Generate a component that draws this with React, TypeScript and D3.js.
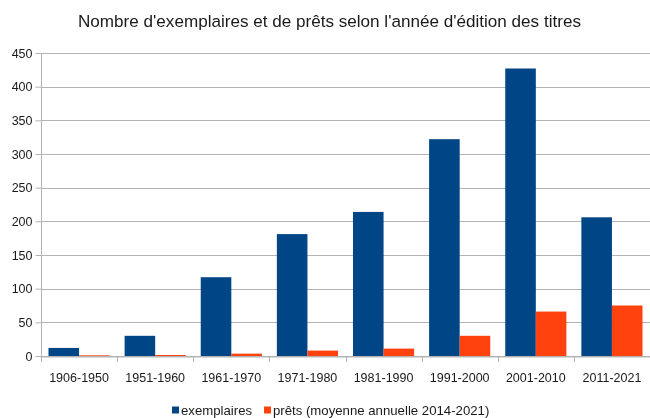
import { useEffect, useRef } from "react";
import * as d3 from "d3";

const periods = [
  "1906-1950",
  "1951-1960",
  "1961-1970",
  "1971-1980",
  "1981-1990",
  "1991-2000",
  "2001-2010",
  "2011-2021",
];
const exemplaires = [12, 30, 117, 181, 214, 322, 427, 206];
const prets = [1, 1.5, 3.5, 8, 11, 30, 66, 75];
const seriesNames = ["exemplaires", "prêts (moyenne annuelle 2014-2021)"];
const yTicks = [0, 50, 100, 150, 200, 250, 300, 350, 400, 450];

const colors = ["#004586", "#ff420e"];

export default function App() {
  const svgRef = useRef<SVGSVGElement>(null);

  useEffect(() => {
    if (!svgRef.current) return;
    const svg = d3.select(svgRef.current);
    svg.selectAll("*").remove();

    const width = 650;
    const height = 418;
    const margin = { top: 53, right: 0, bottom: 62, left: 41 };
    const innerWidth = width - margin.left - margin.right;
    const innerHeight = height - margin.top - margin.bottom;
    const font = "'Liberation Sans', Arial, sans-serif";

    svg.attr("width", width).attr("height", height);

    // Title
    svg
      .append("text")
      .attr("x", 329.5)
      .attr("y", 27)
      .attr("text-anchor", "middle")
      .attr("font-family", font)
      .attr("font-size", "17.1px")
      .attr("fill", "#1a1a1a")
      .text("Nombre d'exemplaires et de prêts selon l'année d'édition des titres");

    const g = svg
      .append("g")
      .attr("transform", `translate(${margin.left},${margin.top})`);

    const x = d3.scaleBand().domain(periods).range([0, innerWidth]).padding(0);
    const y = d3.scaleLinear().domain([0, 450]).range([innerHeight, 0]);

    const inner = d3
      .scaleBand()
      .domain(seriesNames)
      .range([0, x.bandwidth()])
      .paddingInner(0)
      .paddingOuter(0.245);

    // Gridlines
    g.selectAll("line.grid")
      .data(yTicks)
      .join("line")
      .attr("class", "grid")
      .attr("x1", 0)
      .attr("x2", innerWidth)
      .attr("y1", (d) => Math.round(y(d)) + 0.5)
      .attr("y2", (d) => Math.round(y(d)) + 0.5)
      .attr("stroke", "#b3b3b3")
      .attr("stroke-width", 1);

    // Bars
    const rows = periods.map((p, i) => ({ p, vals: [exemplaires[i], prets[i]] }));
    const groups = g
      .selectAll("g.cat")
      .data(rows)
      .join("g")
      .attr("class", "cat")
      .attr("transform", (d) => `translate(${x(d.p)},0)`);

    groups
      .selectAll("rect")
      .data((d) => d.vals.map((v, k) => ({ v, k })))
      .join("rect")
      .attr("x", (d) => inner(seriesNames[d.k])!)
      .attr("width", inner.bandwidth())
      .attr("y", (d) => y(d.v))
      .attr("height", (d) => innerHeight - y(d.v))
      .attr("fill", (d) => colors[d.k]);

    // Y axis
    const yAxis = g
      .append("g")
      .attr("transform", "translate(0.5,0)")
      .call(d3.axisLeft(y).tickValues(yTicks).tickSize(6).tickPadding(3));
    yAxis.select(".domain").attr("stroke", "#b3b3b3").attr("d", `M0,0V${innerHeight + 6}`);
    yAxis.selectAll(".tick line").attr("stroke", "#b3b3b3");
    yAxis
      .selectAll("text")
      .attr("fill", "#1a1a1a")
      .attr("font-family", font)
      .attr("font-size", "12.5px");

    // X axis
    const xAxis = g
      .append("g")
      .attr("transform", `translate(0,${Math.round(innerHeight) + 0.5})`)
      .call(d3.axisBottom(x).tickSize(0).tickPadding(17));
    xAxis.select(".domain").attr("stroke", "#b3b3b3");
    xAxis
      .selectAll("text")
      .attr("fill", "#1a1a1a")
      .attr("font-family", font)
      .attr("font-size", "12.5px");

    // Category separator ticks
    g.selectAll("line.sep")
      .data(periods)
      .join("line")
      .attr("class", "sep")
      .attr("x1", (d) => Math.round(x(d)!) + 0.5)
      .attr("x2", (d) => Math.round(x(d)!) + 0.5)
      .attr("y1", innerHeight)
      .attr("y2", innerHeight + 6)
      .attr("stroke", "#b3b3b3");

    // Legend (the reference crops it at the bottom edge; kept just inside)
    const legend = svg.append("g").attr("transform", "translate(172,404)");
    const items = [
      { name: seriesNames[0], x: 0 },
      { name: seriesNames[1], x: 92 },
    ];
    items.forEach((it, k) => {
      legend
        .append("rect")
        .attr("x", it.x)
        .attr("y", 2.5)
        .attr("width", 7)
        .attr("height", 7)
        .attr("fill", colors[k]);
      legend
        .append("text")
        .attr("x", it.x + 9)
        .attr("y", 11)
        .attr("font-family", font)
        .attr("font-size", "13.2px")
        .attr("fill", "#1a1a1a")
        .text(it.name);
    });
  }, []);

  return (
    <div style={{ position: "fixed", left: 0, top: 0 }}>
      <svg ref={svgRef} style={{ display: "block" }} />
    </div>
  );
}
